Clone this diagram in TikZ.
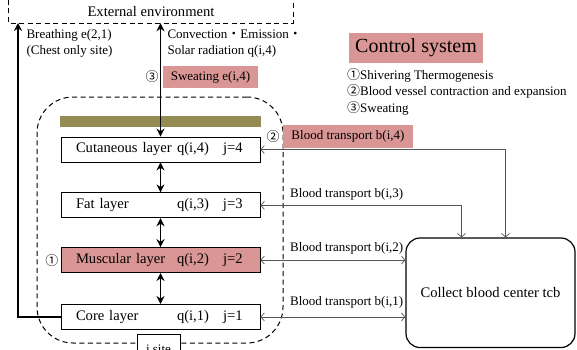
\documentclass[tikz,border=0pt]{standalone}
\usepackage{fontspec}
\setmainfont{Liberation Serif}
\newfontfamily\cjk{Noto Sans CJK JP}
\usetikzlibrary{arrows.meta,positioning}
\definecolor{BTPink}{HTML}{D99694}
\definecolor{BTOlive}{HTML}{948A54}
\definecolor{BTLine}{HTML}{555555}
\newcommand{\circnum}[1]{{\cjk #1}}
\newcommand{\layertext}[3]{\hspace*{15pt}\makebox[101pt][l]{#1}\makebox[46pt][l]{#2}#3}
\tikzset{
  smalltext/.style={font=\fontsize{13}{16.5}\selectfont},
  bigtext/.style={font=\fontsize{14.6}{17}\selectfont},
  heavy/.style={>={Stealth[length=8pt,width=8pt]},line width=1.7pt},
  blood/.style={<->,>={Straight Barb[length=3.5pt,width=8pt]},BTLine,line width=0.7pt},
  pinktag/.style={fill=BTPink,smalltext,inner sep=0pt},
  layerbox/.style={draw,line width=0.8pt,fill=white,minimum width=199pt,minimum height=25pt,
                   text width=199pt,inner xsep=0pt,inner ysep=0pt,align=left,bigtext},
  layerhot/.style={layerbox,fill=BTPink},
  region/.style={draw,dashed,dash pattern=on 5pt off 3.5pt,line width=1pt,rounded corners=36pt},
  envline/.style={dashed,dash pattern=on 5pt off 3.5pt,line width=0.8pt},
}
\begin{document}
\begin{tikzpicture}[x=1pt,y=-1pt]
  \useasboundingbox (0,0) rectangle (577,349);
  \clip (0,0) rectangle (577,349);

  % --- external environment ---
  \node[bigtext,minimum width=284pt,minimum height=23pt,inner sep=0pt] (ext) at (151,11.5) {External environment};
  \draw[envline] (ext.north west) |- (ext.south east) -- (ext.north east);
  \node[smalltext,anchor=west,align=left] (breath) at (23,43.5) {Breathing e(2,1)\\(Chest only site)};
  \node[smalltext,anchor=west,align=left] (conv) at (164,43.5)
    {Convection\circnum{・}Emission\circnum{・}\\Solar radiation q(i,4)};
  \node[pinktag,minimum width=95pt,minimum height=22pt] (sweat) at (210.5,77) {Sweating e(i,4)};
  \node[smalltext,inner sep=0pt,left=4pt of sweat] (num3) {\circnum{③}};

  % --- one site with its four layers ---
  \node[region,minimum width=246pt,minimum height=246pt] (site) at (160,220) {};
  \node[draw,fill=white,line width=0.8pt,smalltext,minimum width=43pt,minimum height=30pt,anchor=north]
    (isite) at (158.5,334) {i site};
  \node[fill=BTOlive,minimum width=201pt,minimum height=11pt,inner sep=0pt] (skin) at (160.5,121.5) {};
  \node[layerbox] (cut) at (160.5,149.5) {\layertext{Cutaneous layer}{q(i,4)}{j=4}};
  \node[layerbox,below=30pt of cut] (fat) {\layertext{Fat layer}{q(i,3)}{j=3}};
  \node[layerhot,below=29pt of fat] (mus) {\layertext{Muscular layer}{q(i,2)}{j=2}};
  \node[layerbox,below=31pt of mus] (core) {\layertext{Core layer}{q(i,1)}{j=1}};
  \node[smalltext,inner sep=0pt,left=2pt of mus] (num1) {\circnum{①}};
  \draw[heavy,<->] (cut) -- (fat);
  \draw[heavy,<->] (fat) -- (mus);
  \draw[heavy,<->] (mus) -- (core);
  \coordinate (breathtop) at (18,23);
  \draw[heavy,->] (core.west) -| (breathtop);
  \draw[heavy,<->] (cut.north) -- (cut.north |- ext.south);

  % --- blood ---
  \node[draw,rounded corners=14pt,line width=1.2pt,minimum width=169pt,minimum height=109.5pt,bigtext]
    (blood) at (490.5,292.75) {Collect blood center tcb};
  \draw[blood] (cut.east) -| ([xshift=15pt]blood.north);
  \draw[blood] (fat.east) -| ([xshift=-29pt]blood.north);
  \draw[blood] (mus.east) -- (mus.east -| blood.west);
  \draw[blood] (core.east) -- (core.east -| blood.west);
  \node[pinktag,minimum width=130pt,minimum height=23pt] (b4) at (348,136.5) {Blood transport b(i,4)};
  \node[smalltext,inner sep=0pt,left=3pt of b4] (num2) {\circnum{②}};
  \node[smalltext,anchor=west,inner sep=0pt] (b3) at (290,194) {Blood transport b(i,3)};
  \node[smalltext,anchor=west,inner sep=0pt] (b2) at (290,248) {Blood transport b(i,2)};
  \node[smalltext,anchor=west,inner sep=0pt] (b1) at (290,302) {Blood transport b(i,1)};

  % --- control system ---
  \node[pinktag,font=\fontsize{20}{24}\selectfont,minimum width=134pt,minimum height=30pt] (ctrl) at (416,48) {Control system};
  \node[smalltext,anchor=north west,align=left,inner sep=0pt] (ctrllist) at (347,68)
    {\circnum{①}Shivering Thermogenesis\\\circnum{②}Blood vessel contraction and expansion\\\circnum{③}Sweating};
\end{tikzpicture}
\end{document}
